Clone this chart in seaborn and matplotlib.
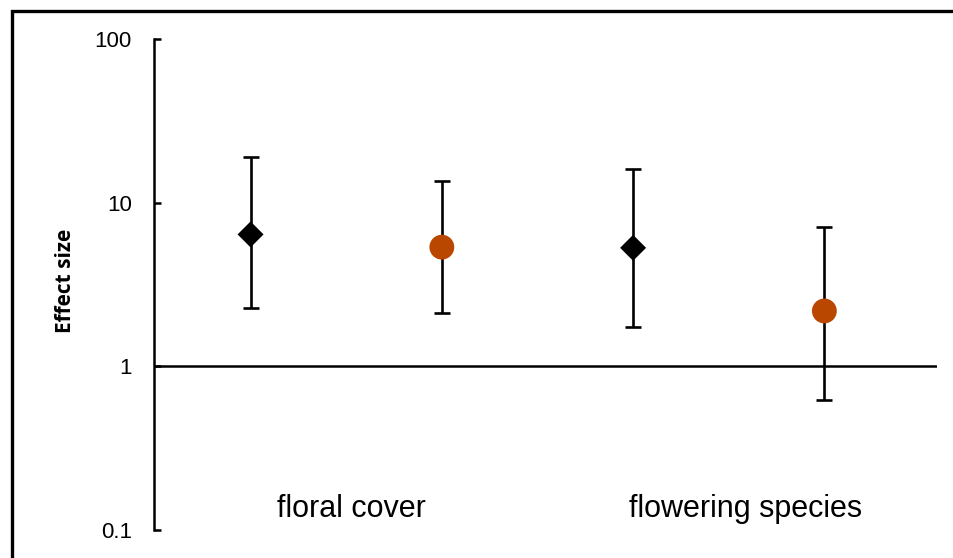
import numpy as np
import pandas as pd
import matplotlib
matplotlib.use('Agg')
import matplotlib.pyplot as plt
from matplotlib.patches import Rectangle
import seaborn as sns

# valores
categorias = ['floral cover', 'floral cover', 'flowering species', 'flowering species']
grupos = ['A', 'B', 'A', 'B']
efeito = [6.4, 5.35, 5.3, 2.18]
ic_inferior = [2.26, 2.12, 1.75, 0.62]
ic_superior = [19.0, 13.6, 16.0, 7.1]
rotulos_categoria = ['floral cover', 'flowering species']

cor_laranja = '#BA4700'

df = pd.DataFrame({'categoria': categorias, 'grupo': grupos,
                   'efeito': efeito, 'inf': ic_inferior, 'sup': ic_superior})
df['pos'] = np.arange(len(df))

sns.set_style('white')
plt.rcParams['font.family'] = ['Liberation Sans', 'DejaVu Sans']
plt.rcParams['text.color'] = 'black'
plt.rcParams['ytick.color'] = 'black'
plt.rcParams['axes.labelcolor'] = 'black'

fig = plt.figure(figsize=(9.54, 5.58), dpi=100)
ax = fig.add_axes([0.1614, 0.0502, 0.8206, 0.8798])

# barras de erro
ax.errorbar(df['pos'], df['efeito'],
            yerr=[df['efeito'] - df['inf'], df['sup'] - df['efeito']],
            fmt='none', ecolor='black', elinewidth=1.9, capsize=5.5, capthick=1.9, zorder=2)

sns.scatterplot(data=df, x='pos', y='efeito', hue='grupo', style='grupo', size='grupo',
                markers={'A': 'D', 'B': 'o'}, palette={'A': 'black', 'B': cor_laranja},
                sizes={'A': 175, 'B': 320}, linewidth=0, legend=False, zorder=3, ax=ax)

ax.axhline(1, color='black', lw=1.8, zorder=1)

ax.set_yscale('log')
ax.set_ylim(0.1, 100)
ax.set_xlim(-0.505, 3.588)
ax.set_yticks([0.1, 1, 10, 100])
ax.set_yticklabels(['0.1', '1', '10', '100'], fontsize=16)
ax.yaxis.set_minor_locator(matplotlib.ticker.NullLocator())
ax.tick_params(axis='y', direction='in', length=5, width=1.8, pad=16, left=True)
ax.set_xticks([])
ax.set_xlabel('')
ax.set_ylabel('Effect size', fontsize=15, fontweight='bold', family=['Open Sans', 'DejaVu Sans'])
ax.yaxis.set_label_coords(-0.100, 0.507)

for lado in ['top', 'right', 'bottom']:
    ax.spines[lado].set_visible(False)
ax.spines['left'].set_linewidth(1.8)
ax.spines['left'].set_color('black')

# rótulos das categorias dentro do gráfico
for xpos, rot in zip([0.53, 2.587], rotulos_categoria):
    ax.text(xpos, 0.135, rot, ha='center', va='center', fontsize=22)

# moldura externa
fig.patches.append(Rectangle((0.0126, -0.1), 1.1, 1.08, transform=fig.transFigure,
                             fill=False, edgecolor='black', lw=2.4))

fig.savefig('out.png', dpi=100)
